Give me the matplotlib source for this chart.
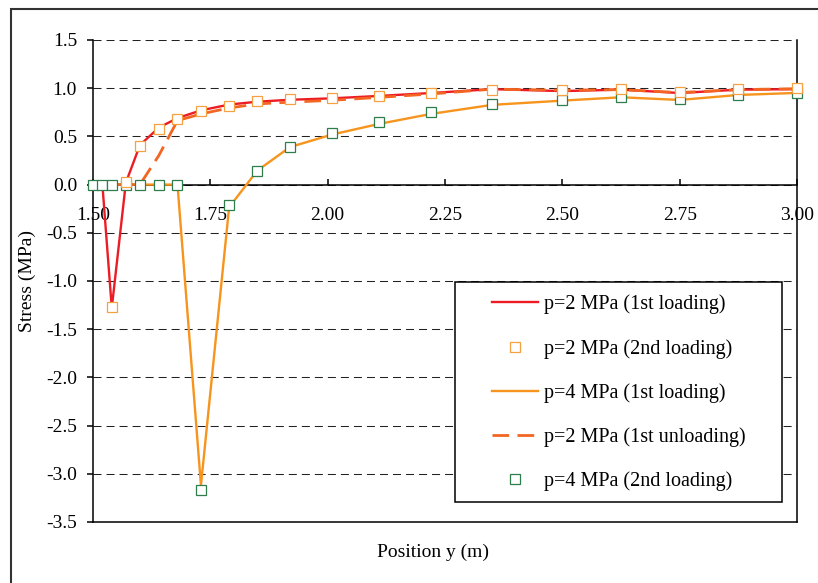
import numpy as np
import matplotlib
matplotlib.use("Agg")
import matplotlib.pyplot as plt
from matplotlib.patches import Rectangle

plt.rcParams['font.family'] = ['Liberation Serif', 'DejaVu Serif']
plt.rcParams['axes.unicode_minus'] = False

# node positions along y (m)
x_pos = [1.50, 1.52, 1.54, 1.57, 1.60, 1.64, 1.68, 1.73, 1.79, 1.85,
         1.92, 2.01, 2.11, 2.22, 2.35, 2.50, 2.625, 2.75, 2.875, 3.00]

# stresses (MPa)
p2_load1 = [0, 0, -1.28, 0.02, 0.41, 0.59, 0.69, 0.77, 0.83, 0.86,
            0.88, 0.895, 0.92, 0.95, 0.99, 0.97, 0.985, 0.95, 0.985, 0.99]
x_p2_load2 = x_pos[2:]
p2_load2 = [-1.27, 0.03, 0.405, 0.578, 0.68, 0.76, 0.82, 0.864,
            0.889, 0.90, 0.923, 0.951, 0.985, 0.982, 0.993, 0.957, 0.993, 0.999]
p4_load1 = [0, 0, 0, 0, 0, 0, 0, -3.12, -0.235, 0.145,
            0.39, 0.52, 0.63, 0.733, 0.827, 0.871, 0.906, 0.878, 0.93, 0.951]
p2_unload = [0, 0, 0, 0, 0, 0.30, 0.664, 0.733, 0.795, 0.837,
             0.855, 0.875, 0.905, 0.94, 0.99, 0.98, 0.985, 0.955, 0.985, 0.995]
p4_load2 = [0, 0, 0, 0, 0, 0, 0, -3.17, -0.21, 0.145,
            0.39, 0.54, 0.646, 0.75, 0.837, 0.878, 0.906, 0.889, 0.93, 0.951]

labels = ['p=2 MPa (1st loading)', 'p=2 MPa (2nd loading)', 'p=4 MPa (1st loading)',
          'p=2 MPa (1st unloading)', 'p=4 MPa (2nd loading)']

x_ticks = np.arange(1.5, 3.01, 0.25)
y_ticks = np.arange(-3.5, 1.51, 0.5)

W, H = 818, 583
fig = plt.figure(figsize=(W / 100, H / 100), dpi=100)
ax = fig.add_axes([93 / W, 1 - 522 / H, (797 - 93) / W, (522 - 40) / H])

# outer chart frame
fig.add_artist(Rectangle((11 / W, -0.2), 1.2, 1.2 - 8.5 / H, transform=fig.transFigure,
                         fill=False, edgecolor='#333333', lw=1.5))

h1, = ax.plot(x_pos, p2_load1, color='#ED1C24', lw=1.7, zorder=3, clip_on=False)
h3, = ax.plot(x_pos, p4_load1, color='#F7941D', lw=1.7, zorder=3, clip_on=False)
h4, = ax.plot(x_pos, p2_unload, color='#F26522', lw=2.0, ls=(0, (6, 3)), zorder=3, clip_on=False)
h5, = ax.plot(x_pos, p4_load2, ls='none', marker='s', ms=7.5, mfc='white', mec='#2E7D4A',
              mew=0.9, zorder=4, clip_on=False)
h2, = ax.plot(x_p2_load2, p2_load2, ls='none', marker='s', ms=7.5, mfc='white', mec='#F5A142',
              mew=0.9, zorder=5, clip_on=False)

ax.set_xlim(1.5, 3.0)
ax.set_ylim(-3.5, 1.5)

ax.spines['top'].set_visible(False)
ax.spines['bottom'].set_position(('data', 0))
for s in ['left', 'right', 'bottom']:
    ax.spines[s].set_linewidth(1.1)
    ax.spines[s].set_color('black')
ax.plot([0, 1], [0, 0], transform=ax.transAxes, color='black', lw=1.1, clip_on=False, zorder=2.5)

ax.set_xticks(x_ticks)
ax.set_xticklabels(['%.2f' % v for v in x_ticks])
ax.set_yticks(y_ticks)
ax.set_yticklabels(['%.1f' % v for v in y_ticks])
ax.tick_params(axis='x', direction='in', length=4.5, width=1.1, pad=16, labelsize=14)
ax.tick_params(axis='y', direction='out', length=4.5, width=1.1, pad=7, labelsize=14)

ax.yaxis.grid(True, color='#222222', lw=0.75, ls=(0, (7.7, 4.8)))
ax.set_axisbelow(True)

fig.text(27 / W, 1 - 281 / H, 'Stress (MPa)', rotation=90, ha='center', va='center', fontsize=14)
fig.text(433 / W, 1 - 552 / H, 'Position y (m)', ha='center', va='center', fontsize=14)

# legend box
ax.add_patch(Rectangle((455 / W, 1 - 502 / H), (782 - 455) / W, (502 - 282) / H,
                       transform=fig.transFigure, facecolor='white', edgecolor='black',
                       lw=1.1, zorder=6, clip_on=False))
leg = ax.legend([h1, h2, h3, h4, h5], labels, loc='center',
                bbox_to_anchor=(618.5 / W, 1 - 393 / H), bbox_transform=fig.transFigure,
                frameon=False, fontsize=14.5, handlelength=2.3, handletextpad=0.3,
                labelspacing=1.22, borderpad=0, markerscale=0.95)
leg.set_zorder(7)

fig.savefig('out.png', dpi=100)
